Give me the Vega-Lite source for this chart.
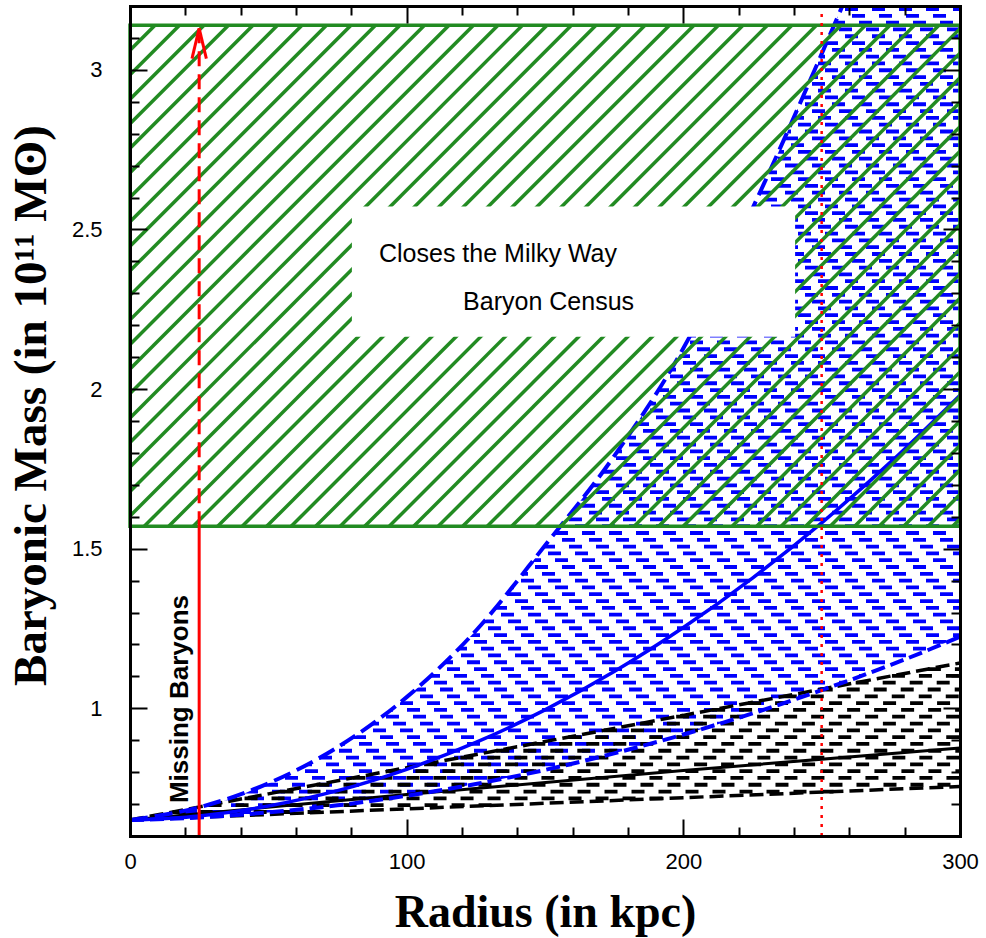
{
"$schema": "https://vega.github.io/schema/vega-lite/v6.json",
"width": 830, "height": 830,
"autosize": {"type": "none"},
"padding": {"left": 130, "top": 6, "right": 26, "bottom": 102},
"background": "white",
"config": {"view": {"stroke": null}, "axis": {"grid": false, "labelFlush": false, "labelOverlap": false}},
"datasets": {
"bluerows": [{"n":0,"y":0.6539},{"n":1,"y":0.6752},{"n":2,"y":0.6965},{"n":3,"y":0.7179},{"n":4,"y":0.7392},{"n":5,"y":0.7605},{"n":6,"y":0.7818},{"n":7,"y":0.8031},{"n":8,"y":0.8244},{"n":9,"y":0.8458},{"n":10,"y":0.8671},{"n":11,"y":0.8884},{"n":12,"y":0.9097},{"n":13,"y":0.931},{"n":14,"y":0.9523},{"n":15,"y":0.9737},{"n":16,"y":0.995},{"n":17,"y":1.0163},{"n":18,"y":1.0376},{"n":19,"y":1.0589},{"n":20,"y":1.0802},{"n":21,"y":1.1016},{"n":22,"y":1.1229},{"n":23,"y":1.1442},{"n":24,"y":1.1655},{"n":25,"y":1.1868},{"n":26,"y":1.2081},{"n":27,"y":1.2295},{"n":28,"y":1.2508},{"n":29,"y":1.2721},{"n":30,"y":1.2934},{"n":31,"y":1.3147},{"n":32,"y":1.336},{"n":33,"y":1.3574},{"n":34,"y":1.3787},{"n":35,"y":1.4},{"n":36,"y":1.4213},{"n":37,"y":1.4426},{"n":38,"y":1.4639},{"n":39,"y":1.4853},{"n":40,"y":1.5066},{"n":41,"y":1.5279},{"n":42,"y":1.5492},{"n":43,"y":1.5705},{"n":44,"y":1.5918},{"n":45,"y":1.6132},{"n":46,"y":1.6345},{"n":47,"y":1.6558},{"n":48,"y":1.6771},{"n":49,"y":1.6984},{"n":50,"y":1.7198},{"n":51,"y":1.7411},{"n":52,"y":1.7624},{"n":53,"y":1.7837},{"n":54,"y":1.805},{"n":55,"y":1.8263},{"n":56,"y":1.8477},{"n":57,"y":1.869},{"n":58,"y":1.8903},{"n":59,"y":1.9116},{"n":60,"y":1.9329},{"n":61,"y":1.9542},{"n":62,"y":1.9756},{"n":63,"y":1.9969},{"n":64,"y":2.0182},{"n":65,"y":2.0395},{"n":66,"y":2.0608},{"n":67,"y":2.0821},{"n":68,"y":2.1035},{"n":69,"y":2.1248},{"n":70,"y":2.1461},{"n":71,"y":2.1674},{"n":72,"y":2.1887},{"n":73,"y":2.21},{"n":74,"y":2.2314},{"n":75,"y":2.2527},{"n":76,"y":2.274},{"n":77,"y":2.2953},{"n":78,"y":2.3166},{"n":79,"y":2.3379},{"n":80,"y":2.3593},{"n":81,"y":2.3806},{"n":82,"y":2.4019},{"n":83,"y":2.4232},{"n":84,"y":2.4445},{"n":85,"y":2.4658},{"n":86,"y":2.4872},{"n":87,"y":2.5085},{"n":88,"y":2.5298},{"n":89,"y":2.5511},{"n":90,"y":2.5724},{"n":91,"y":2.5937},{"n":92,"y":2.6151},{"n":93,"y":2.6364},{"n":94,"y":2.6577},{"n":95,"y":2.679},{"n":96,"y":2.7003},{"n":97,"y":2.7216},{"n":98,"y":2.743},{"n":99,"y":2.7643},{"n":100,"y":2.7856},{"n":101,"y":2.8069},{"n":102,"y":2.8282},{"n":103,"y":2.8495},{"n":104,"y":2.8709},{"n":105,"y":2.8922},{"n":106,"y":2.9135},{"n":107,"y":2.9348},{"n":108,"y":2.9561},{"n":109,"y":2.9774},{"n":110,"y":2.9988},{"n":111,"y":3.0201},{"n":112,"y":3.0414},{"n":113,"y":3.0627},{"n":114,"y":3.084},{"n":115,"y":3.1053},{"n":116,"y":3.1267},{"n":117,"y":3.148},{"n":118,"y":3.1693},{"n":119,"y":3.1906}],
"blackrows": [{"y":0.6539,"x":2.4,"x2":11.1},{"y":0.6752,"x":15.4,"x2":72},{"y":0.6965,"x":28.4,"x2":132.9},{"y":0.7179,"x":41.4,"x2":194},{"y":0.7392,"x":54.4,"x2":254.9},{"y":0.7605,"x":67.4,"x2":300},{"y":0.7818,"x":80.4,"x2":300},{"y":0.8031,"x":93.4,"x2":300},{"y":0.8244,"x":106.3,"x2":300},{"y":0.8458,"x":119.4,"x2":300},{"y":0.8671,"x":132.4,"x2":300},{"y":0.8884,"x":145.4,"x2":300},{"y":0.9097,"x":158.4,"x2":300},{"y":0.931,"x":171.3,"x2":300},{"y":0.9523,"x":184.3,"x2":300},{"y":0.9737,"x":197.4,"x2":300},{"y":0.995,"x":210.4,"x2":300},{"y":1.0163,"x":223.4,"x2":300},{"y":1.0376,"x":236.3,"x2":300},{"y":1.0589,"x":249.3,"x2":300},{"y":1.0802,"x":262.3,"x2":300},{"y":1.1016,"x":275.4,"x2":300},{"y":1.1229,"x":288.4,"x2":300}],
"hatch": [{"xt":0.18,"xb":-180.82,"yt":3.14,"yb":1.57},{"xt":9.04,"xb":-171.96,"yt":3.14,"yb":1.57},{"xt":17.89,"xb":-163.11,"yt":3.14,"yb":1.57},{"xt":26.75,"xb":-154.25,"yt":3.14,"yb":1.57},{"xt":35.6,"xb":-145.4,"yt":3.14,"yb":1.57},{"xt":44.46,"xb":-136.54,"yt":3.14,"yb":1.57},{"xt":53.31,"xb":-127.69,"yt":3.14,"yb":1.57},{"xt":62.17,"xb":-118.83,"yt":3.14,"yb":1.57},{"xt":71.02,"xb":-109.98,"yt":3.14,"yb":1.57},{"xt":79.88,"xb":-101.12,"yt":3.14,"yb":1.57},{"xt":88.73,"xb":-92.27,"yt":3.14,"yb":1.57},{"xt":97.59,"xb":-83.41,"yt":3.14,"yb":1.57},{"xt":106.44,"xb":-74.56,"yt":3.14,"yb":1.57},{"xt":115.3,"xb":-65.7,"yt":3.14,"yb":1.57},{"xt":124.15,"xb":-56.85,"yt":3.14,"yb":1.57},{"xt":133.01,"xb":-47.99,"yt":3.14,"yb":1.57},{"xt":141.86,"xb":-39.14,"yt":3.14,"yb":1.57},{"xt":150.72,"xb":-30.28,"yt":3.14,"yb":1.57},{"xt":159.57,"xb":-21.43,"yt":3.14,"yb":1.57},{"xt":168.43,"xb":-12.57,"yt":3.14,"yb":1.57},{"xt":177.28,"xb":-3.72,"yt":3.14,"yb":1.57},{"xt":186.14,"xb":5.14,"yt":3.14,"yb":1.57},{"xt":195,"xb":14,"yt":3.14,"yb":1.57},{"xt":203.85,"xb":22.85,"yt":3.14,"yb":1.57},{"xt":212.7,"xb":31.7,"yt":3.14,"yb":1.57},{"xt":221.56,"xb":40.56,"yt":3.14,"yb":1.57},{"xt":230.41,"xb":49.41,"yt":3.14,"yb":1.57},{"xt":239.27,"xb":58.27,"yt":3.14,"yb":1.57},{"xt":248.12,"xb":67.12,"yt":3.14,"yb":1.57},{"xt":256.98,"xb":75.98,"yt":3.14,"yb":1.57},{"xt":265.83,"xb":84.83,"yt":3.14,"yb":1.57},{"xt":274.69,"xb":93.69,"yt":3.14,"yb":1.57},{"xt":283.54,"xb":102.54,"yt":3.14,"yb":1.57},{"xt":292.4,"xb":111.4,"yt":3.14,"yb":1.57},{"xt":301.25,"xb":120.25,"yt":3.14,"yb":1.57},{"xt":310.11,"xb":129.11,"yt":3.14,"yb":1.57},{"xt":318.96,"xb":137.96,"yt":3.14,"yb":1.57},{"xt":327.82,"xb":146.82,"yt":3.14,"yb":1.57},{"xt":336.67,"xb":155.67,"yt":3.14,"yb":1.57},{"xt":345.53,"xb":164.53,"yt":3.14,"yb":1.57},{"xt":354.38,"xb":173.38,"yt":3.14,"yb":1.57},{"xt":363.24,"xb":182.24,"yt":3.14,"yb":1.57},{"xt":372.09,"xb":191.09,"yt":3.14,"yb":1.57},{"xt":380.95,"xb":199.95,"yt":3.14,"yb":1.57},{"xt":389.8,"xb":208.8,"yt":3.14,"yb":1.57},{"xt":398.66,"xb":217.66,"yt":3.14,"yb":1.57},{"xt":407.51,"xb":226.51,"yt":3.14,"yb":1.57},{"xt":416.37,"xb":235.37,"yt":3.14,"yb":1.57},{"xt":425.22,"xb":244.22,"yt":3.14,"yb":1.57},{"xt":434.08,"xb":253.08,"yt":3.14,"yb":1.57},{"xt":442.93,"xb":261.93,"yt":3.14,"yb":1.57},{"xt":451.79,"xb":270.79,"yt":3.14,"yb":1.57},{"xt":460.64,"xb":279.64,"yt":3.14,"yb":1.57},{"xt":469.5,"xb":288.5,"yt":3.14,"yb":1.57},{"xt":478.35,"xb":297.35,"yt":3.14,"yb":1.57}],
"curves": [
{"c":"bu","x":0,"y":0.65},{"c":"bu","x":25,"y":0.69},{"c":"bu","x":50,"y":0.765},{"c":"bu","x":75,"y":0.878},{"c":"bu","x":100,"y":1.035},{"c":"bu","x":125,"y":1.243},{"c":"bu","x":150,"y":1.51},{"c":"bu","x":175,"y":1.79},{"c":"bu","x":200,"y":2.128},{"c":"bu","x":225,"y":2.566},{"c":"bu","x":250,"y":3.05},{"c":"bu","x":257.5,"y":3.2},
{"c":"bs","x":0,"y":0.65},{"c":"bs","x":25,"y":0.663},{"c":"bs","x":50,"y":0.694},{"c":"bs","x":75,"y":0.742},{"c":"bs","x":100,"y":0.809},{"c":"bs","x":125,"y":0.893},{"c":"bs","x":150,"y":0.995},{"c":"bs","x":175,"y":1.115},{"c":"bs","x":200,"y":1.253},{"c":"bs","x":225,"y":1.408},{"c":"bs","x":250,"y":1.581},{"c":"bs","x":275,"y":1.772},{"c":"bs","x":300,"y":1.981},
{"c":"bl","x":0,"y":0.65},{"c":"bl","x":25,"y":0.658},{"c":"bl","x":50,"y":0.674},{"c":"bl","x":75,"y":0.696},{"c":"bl","x":100,"y":0.726},{"c":"bl","x":125,"y":0.763},{"c":"bl","x":150,"y":0.807},{"c":"bl","x":175,"y":0.859},{"c":"bl","x":200,"y":0.918},{"c":"bl","x":225,"y":0.984},{"c":"bl","x":250,"y":1.057},{"c":"bl","x":275,"y":1.136},{"c":"bl","x":300,"y":1.224},
{"c":"ku","x":0,"y":0.65},{"c":"ku","x":50,"y":0.732},{"c":"ku","x":100,"y":0.814},{"c":"ku","x":150,"y":0.896},{"c":"ku","x":200,"y":0.978},{"c":"ku","x":250,"y":1.06},{"c":"ku","x":300,"y":1.142},
{"c":"ks","x":0,"y":0.65},{"c":"ks","x":100,"y":0.73},{"c":"ks","x":200,"y":0.805},{"c":"ks","x":300,"y":0.876},
{"c":"kl","x":0,"y":0.65},{"c":"kl","x":100,"y":0.685},{"c":"kl","x":200,"y":0.72},{"c":"kl","x":300,"y":0.755}
],
"annot": [{"k":"solid","x":25,"y":0.6,"x2":25,"y2":1.57},{"k":"dash","x":25,"y":1.57,"x2":25,"y2":3.11},{"k":"wing","x":22.4,"y":3.035,"x2":25,"y2":3.13},{"k":"wing","x":27.6,"y":3.035,"x2":25,"y2":3.13},{"k":"dot","x":250,"y":0.6,"x2":250,"y2":3.2}],
"regions": [{"r":"green","x":0,"x2":300,"y":1.57,"y2":3.14},{"r":"box","x":80.2,"x2":240.4,"y":2.164,"y2":2.572}],
"notes": [{"t":"Closes the Milky Way","x":90,"y":2.399,"k":"box"},{"t":"Baryon Census","x":120.4,"y":2.249,"k":"box"},{"t":"Missing Baryons","x":21,"y":1.029,"k":"side"}]
},
"resolve": {"axis": {"x": "independent", "y": "independent"}},
"layer": [
{"data": {"name": "bluerows"}, "transform": [{"filter": "datum.n % 4 == 0"}], "mark": {"type": "rule", "stroke": "#0000ff", "strokeWidth": 3.8, "strokeDash": [13, 14], "strokeDashOffset": 0, "strokeCap": "butt"}, "encoding": {"y": {"field": "y", "type": "quantitative", "scale": {"domain": [0.6, 3.2], "nice": false, "zero": false}, "axis": null}}},
{"data": {"name": "bluerows"}, "transform": [{"filter": "datum.n % 4 == 1"}], "mark": {"type": "rule", "stroke": "#0000ff", "strokeWidth": 3.8, "strokeDash": [13, 14], "strokeDashOffset": 20, "strokeCap": "butt"}, "encoding": {"y": {"field": "y", "type": "quantitative", "scale": {"domain": [0.6, 3.2], "nice": false, "zero": false}, "axis": null}}},
{"data": {"name": "bluerows"}, "transform": [{"filter": "datum.n % 4 == 2"}], "mark": {"type": "rule", "stroke": "#0000ff", "strokeWidth": 3.8, "strokeDash": [13, 14], "strokeDashOffset": 13, "strokeCap": "butt"}, "encoding": {"y": {"field": "y", "type": "quantitative", "scale": {"domain": [0.6, 3.2], "nice": false, "zero": false}, "axis": null}}},
{"data": {"name": "bluerows"}, "transform": [{"filter": "datum.n % 4 == 3"}], "mark": {"type": "rule", "stroke": "#0000ff", "strokeWidth": 3.8, "strokeDash": [13, 14], "strokeDashOffset": 6, "strokeCap": "butt"}, "encoding": {"y": {"field": "y", "type": "quantitative", "scale": {"domain": [0.6, 3.2], "nice": false, "zero": false}, "axis": null}}},
{"data": {"name": "curves"}, "transform": [{"filter": "datum.c == 'bu'"}], "mark": {"type": "area", "orient": "horizontal", "fill": "white", "interpolate": "monotone"}, "encoding": {"x": {"field": "x", "type": "quantitative", "scale": {"domain": [0, 300], "nice": false}, "axis": null}, "y": {"field": "y", "type": "quantitative", "scale": {"domain": [0.6, 3.2], "nice": false, "zero": false}, "axis": null}}},
{"data": {"name": "curves"}, "transform": [{"filter": "datum.c == 'bl'"}], "mark": {"type": "area", "orient": "vertical", "fill": "white", "interpolate": "monotone"}, "encoding": {"x": {"field": "x", "type": "quantitative", "scale": {"domain": [0, 300], "nice": false}, "axis": null}, "y": {"field": "y", "type": "quantitative", "scale": {"domain": [0.6, 3.2], "nice": false, "zero": false}, "axis": null}}},
{"data": {"name": "blackrows"}, "mark": {"type": "rule", "stroke": "black", "strokeWidth": 3.8, "strokeDash": [13, 14], "strokeCap": "butt"}, "encoding": {"x": {"field": "x", "type": "quantitative", "scale": {"domain": [0, 300], "nice": false}, "axis": null}, "x2": {"field": "x2"}, "y": {"field": "y", "type": "quantitative", "scale": {"domain": [0.6, 3.2], "nice": false, "zero": false}, "axis": null}}},
{"data": {"name": "curves"}, "transform": [{"filter": "datum.c == 'kl'"}], "mark": {"type": "line", "stroke": "black", "strokeWidth": 3.5, "strokeDash": [14, 6], "interpolate": "monotone"}, "encoding": {"x": {"field": "x", "type": "quantitative", "scale": {"domain": [0, 300], "nice": false}, "axis": null}, "y": {"field": "y", "type": "quantitative", "scale": {"domain": [0.6, 3.2], "nice": false, "zero": false}, "axis": null}}},
{"data": {"name": "curves"}, "transform": [{"filter": "datum.c == 'ks'"}], "mark": {"type": "line", "stroke": "black", "strokeWidth": 3, "interpolate": "monotone"},
 "encoding": {
  "x": {"field": "x", "type": "quantitative", "scale": {"domain": [0, 300], "nice": false}, "axis": {"orient": "bottom", "values": [0, 20, 40, 60, 80, 100, 120, 140, 160, 180, 200, 220, 240, 260, 280, 300], "labelExpr": "datum.value % 100 == 0 ? datum.label : ''", "format": "d", "ticks": true, "tickSize": {"condition": {"test": "datum.value % 100 == 0", "value": -17}, "value": -9}, "tickWidth": 2, "tickColor": "black", "domain": true, "domainColor": "black", "domainWidth": 3, "domainCap": "square", "labelFont": "Liberation Sans", "labelFontSize": 22, "labelColor": "black", "labelPadding": 32, "title": "Radius (in kpc)", "titleFont": "Liberation Serif", "titleFontSize": 46, "titleFontWeight": "bold", "titleColor": "black", "titleX": 415, "titleY": 90, "titleAlign": "center", "titleBaseline": "alphabetic", "zindex": 1}},
  "y": {"field": "y", "type": "quantitative", "scale": {"domain": [0.6, 3.2], "nice": false, "zero": false}, "axis": {"orient": "left", "values": [0.6, 0.7, 0.8, 0.9, 1, 1.1, 1.2, 1.3, 1.4, 1.5, 1.6, 1.7, 1.8, 1.9, 2, 2.1, 2.2, 2.3, 2.4, 2.5, 2.6, 2.7, 2.8, 2.9, 3, 3.1, 3.2], "labelExpr": "abs(datum.value * 2 - round(datum.value * 2)) < 0.01 ? datum.label : ''", "format": "~g", "ticks": true, "tickSize": {"condition": {"test": "abs(datum.value * 2 - round(datum.value * 2)) < 0.01", "value": -17}, "value": -9}, "tickWidth": 2, "tickColor": "black", "domain": true, "domainColor": "black", "domainWidth": 3, "domainCap": "square", "labelFont": "Liberation Sans", "labelFontSize": 22, "labelColor": "black", "labelPadding": 45, "title": "Baryonic Mass (in 10¹¹ Mʘ)", "titleFont": "Liberation Serif", "titleFontSize": 47, "titleFontWeight": "bold", "titleColor": "black", "titleAngle": 270, "titleX": -85, "titleY": 399, "titleAlign": "center", "titleBaseline": "alphabetic", "zindex": 1}}
 }},
{"data": {"name": "curves"}, "transform": [{"filter": "datum.c == 'ku'"}], "mark": {"type": "line", "stroke": "black", "strokeWidth": 3.5, "strokeDash": [14, 6], "interpolate": "monotone"}, "encoding": {"x": {"field": "x", "type": "quantitative", "scale": {"domain": [0, 300], "nice": false}, "axis": null}, "y": {"field": "y", "type": "quantitative", "scale": {"domain": [0.6, 3.2], "nice": false, "zero": false}, "axis": null}}},
{"data": {"name": "curves"}, "transform": [{"filter": "datum.c == 'bl'"}], "mark": {"type": "line", "stroke": "#0000ff", "strokeWidth": 4, "strokeDash": [14, 6], "interpolate": "monotone"}, "encoding": {"x": {"field": "x", "type": "quantitative", "scale": {"domain": [0, 300], "nice": false}, "axis": null}, "y": {"field": "y", "type": "quantitative", "scale": {"domain": [0.6, 3.2], "nice": false, "zero": false}, "axis": null}}},
{"data": {"name": "curves"}, "transform": [{"filter": "datum.c == 'bs'"}], "mark": {"type": "line", "stroke": "#0000ff", "strokeWidth": 3.5, "interpolate": "monotone"},
 "encoding": {
  "x": {"field": "x", "type": "quantitative", "scale": {"domain": [0, 300], "nice": false}, "axis": {"orient": "top", "values": [0, 20, 40, 60, 80, 100, 120, 140, 160, 180, 200, 220, 240, 260, 280, 300], "labels": false, "ticks": true, "tickSize": {"condition": {"test": "datum.value % 100 == 0", "value": -17}, "value": -9}, "tickWidth": 2, "tickColor": "black", "domain": true, "domainColor": "black", "domainWidth": 3, "domainCap": "square", "title": null, "zindex": 1}},
  "y": {"field": "y", "type": "quantitative", "scale": {"domain": [0.6, 3.2], "nice": false, "zero": false}, "axis": {"orient": "right", "values": [0.6, 0.7, 0.8, 0.9, 1, 1.1, 1.2, 1.3, 1.4, 1.5, 1.6, 1.7, 1.8, 1.9, 2, 2.1, 2.2, 2.3, 2.4, 2.5, 2.6, 2.7, 2.8, 2.9, 3, 3.1, 3.2], "labels": false, "ticks": true, "tickSize": {"condition": {"test": "abs(datum.value * 2 - round(datum.value * 2)) < 0.01", "value": -17}, "value": -9}, "tickWidth": 2, "tickColor": "black", "domain": true, "domainColor": "black", "domainWidth": 3, "domainCap": "square", "title": null, "zindex": 1}}
 }},
{"data": {"name": "curves"}, "transform": [{"filter": "datum.c == 'bu'"}], "mark": {"type": "line", "stroke": "#0000ff", "strokeWidth": 4, "strokeDash": [18, 7], "interpolate": "monotone", "clip": true}, "encoding": {"x": {"field": "x", "type": "quantitative", "scale": {"domain": [0, 300], "nice": false}, "axis": null}, "y": {"field": "y", "type": "quantitative", "scale": {"domain": [0.6, 3.2], "nice": false, "zero": false}, "axis": null}}},
{"data": {"name": "hatch"}, "mark": {"type": "rule", "stroke": "#228B22", "strokeWidth": 3.5, "clip": true}, "encoding": {"x": {"field": "xt", "type": "quantitative", "scale": {"domain": [0, 300], "nice": false}, "axis": null}, "x2": {"field": "xb"}, "y": {"field": "yt", "type": "quantitative", "scale": {"domain": [0.6, 3.2], "nice": false, "zero": false}, "axis": null}, "y2": {"field": "yb"}}},
{"data": {"name": "regions"}, "transform": [{"filter": "datum.r == 'green'"}], "mark": {"type": "rect", "fill": null, "fillOpacity": 0, "stroke": "#228B22", "strokeWidth": 3.5}, "encoding": {"x": {"field": "x", "type": "quantitative", "scale": {"domain": [0, 300], "nice": false}, "axis": null}, "x2": {"field": "x2"}, "y": {"field": "y", "type": "quantitative", "scale": {"domain": [0.6, 3.2], "nice": false, "zero": false}, "axis": null}, "y2": {"field": "y2"}}},
{"data": {"name": "regions"}, "transform": [{"filter": "datum.r == 'box'"}], "mark": {"type": "rect", "fill": "white", "stroke": null}, "encoding": {"x": {"field": "x", "type": "quantitative", "scale": {"domain": [0, 300], "nice": false}, "axis": null}, "x2": {"field": "x2"}, "y": {"field": "y", "type": "quantitative", "scale": {"domain": [0.6, 3.2], "nice": false, "zero": false}, "axis": null}, "y2": {"field": "y2"}}},
{"data": {"name": "notes"}, "transform": [{"filter": "datum.k == 'box'"}], "mark": {"type": "text", "align": "left", "baseline": "alphabetic", "font": "Liberation Sans", "fontSize": 25, "fill": "black"}, "encoding": {"x": {"field": "x", "type": "quantitative", "scale": {"domain": [0, 300], "nice": false}, "axis": null}, "y": {"field": "y", "type": "quantitative", "scale": {"domain": [0.6, 3.2], "nice": false, "zero": false}, "axis": null}, "text": {"field": "t"}}},
{"data": {"name": "annot"}, "transform": [{"filter": "datum.k == 'dot'"}], "mark": {"type": "rule", "stroke": "#ff0000", "strokeWidth": 2.5, "strokeDash": [3, 6]}, "encoding": {"x": {"field": "x", "type": "quantitative", "scale": {"domain": [0, 300], "nice": false}, "axis": null}, "x2": {"field": "x2"}, "y": {"field": "y", "type": "quantitative", "scale": {"domain": [0.6, 3.2], "nice": false, "zero": false}, "axis": null}, "y2": {"field": "y2"}}},
{"data": {"name": "annot"}, "transform": [{"filter": "datum.k == 'solid' || datum.k == 'wing'"}], "mark": {"type": "rule", "stroke": "#ff0000", "strokeWidth": 3}, "encoding": {"x": {"field": "x", "type": "quantitative", "scale": {"domain": [0, 300], "nice": false}, "axis": null}, "x2": {"field": "x2"}, "y": {"field": "y", "type": "quantitative", "scale": {"domain": [0.6, 3.2], "nice": false, "zero": false}, "axis": null}, "y2": {"field": "y2"}}},
{"data": {"name": "annot"}, "transform": [{"filter": "datum.k == 'dash'"}], "mark": {"type": "rule", "stroke": "#ff0000", "strokeWidth": 3, "strokeDash": [15, 8]}, "encoding": {"x": {"field": "x", "type": "quantitative", "scale": {"domain": [0, 300], "nice": false}, "axis": null}, "x2": {"field": "x2"}, "y": {"field": "y", "type": "quantitative", "scale": {"domain": [0.6, 3.2], "nice": false, "zero": false}, "axis": null}, "y2": {"field": "y2"}}},
{"data": {"name": "notes"}, "transform": [{"filter": "datum.k == 'side'"}], "mark": {"type": "text", "angle": 270, "align": "center", "baseline": "alphabetic", "font": "Liberation Sans", "fontSize": 26, "fontWeight": "bold", "fill": "black"}, "encoding": {"x": {"field": "x", "type": "quantitative", "scale": {"domain": [0, 300], "nice": false}, "axis": null}, "y": {"field": "y", "type": "quantitative", "scale": {"domain": [0.6, 3.2], "nice": false, "zero": false}, "axis": null}, "text": {"field": "t"}}}
]
}
